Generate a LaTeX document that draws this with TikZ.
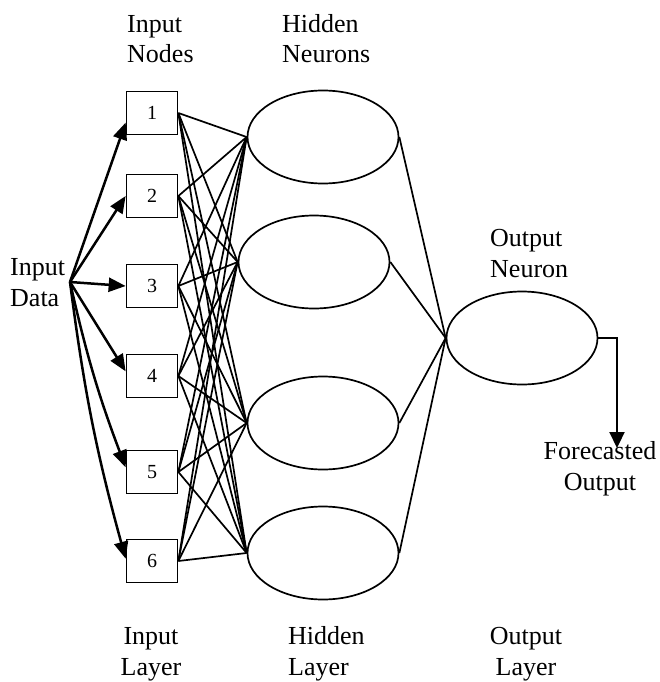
\documentclass[tikz,border=0pt]{standalone}
\usepackage{fontspec}
\setmainfont{Liberation Serif}
\usetikzlibrary{arrows.meta,shapes.geometric}

\begin{document}
\begin{tikzpicture}[x=1pt, y=-1pt,
    unit/.style={draw, line width=1.7pt, minimum width=51pt, minimum height=43pt, inner sep=0pt, font=\fontsize{20}{24}\selectfont},
    neuron/.style={draw, ellipse, line width=1.7pt, minimum width=151pt, minimum height=93pt, inner sep=0pt},
    lbl/.style={inner sep=0pt, font=\fontsize{26}{30.5}\selectfont},
    link/.style={line width=1.7pt},
    feed/.style={line width=2.5pt, -{Triangle[length=17pt, width=14pt]}}]

  \useasboundingbox (0,0) rectangle (659,682);

  % ============================================
  % INPUT LAYER: numbered input nodes
  % ============================================
  \foreach \i/\y in {1/113, 2/196, 3/286, 4/376, 5/472, 6/561} {
    \node[unit] (in\i) at (152,\y) {\i};
  }

  % ============================================
  % HIDDEN LAYER: four neurons
  % ============================================
  \foreach \j/\x/\y in {1/323/137, 2/314/262, 3/323/423, 4/323/553} {
    \node[neuron] (hid\j) at (\x,\y) {};
  }

  % Output neuron
  \node[neuron] (out) at (522,338) {};

  % Fully connected links input -> hidden
  \foreach \i in {1,...,6} {
    \foreach \j in {1,...,4} {
      \draw[link] (in\i.east) -- (hid\j.west);
    }
  }
  % hidden -> output
  \foreach \j in {1,...,4} {
    \draw[link] (hid\j.east) -- (out.west);
  }

  % ============================================
  % Input data feeding the input nodes
  % ============================================
  \node[lbl, align=left, anchor=base west] (data) at (10,306) {Input\\Data};
  \coordinate (src) at (70,282);

  \draw[feed] (src) -- (in1.200);
  \draw[feed] (src) -- (in2.west);
  \draw[feed] (src) -- (in3.west);
  \draw[feed] (src) -- (in4.170);
  \draw[feed] (src) to[bend right=4] (in5.170);
  \draw[feed] (src) to[bend right=4] (in6.175);

  % Forecasted output
  \node[lbl, align=center, anchor=base] (fc) at (600,490) {Forecasted\\Output};
  \coordinate (tip) at (617,448);
  \draw[line width=2.2pt, -{Triangle[length=16pt, width=15pt]}] (out.east) -| (tip);

  % Labels
  \node[lbl, align=left, anchor=base west] (innodes) at (127,63) {Input\\Nodes};
  \node[lbl, align=left, anchor=base west] (hidneur) at (282,63) {Hidden\\Neurons};
  \node[lbl, align=left, anchor=base west] (outneur) at (490,277) {Output\\Neuron};
  \node[lbl, align=center, anchor=base] (inlayer) at (151,675) {Input\\Layer};
  \node[lbl, align=left, anchor=base west] (hidlayer) at (288,675) {Hidden\\Layer};
  \node[lbl, align=center, anchor=base] (outlayer) at (526,675) {Output\\Layer};

\end{tikzpicture}
\end{document}
